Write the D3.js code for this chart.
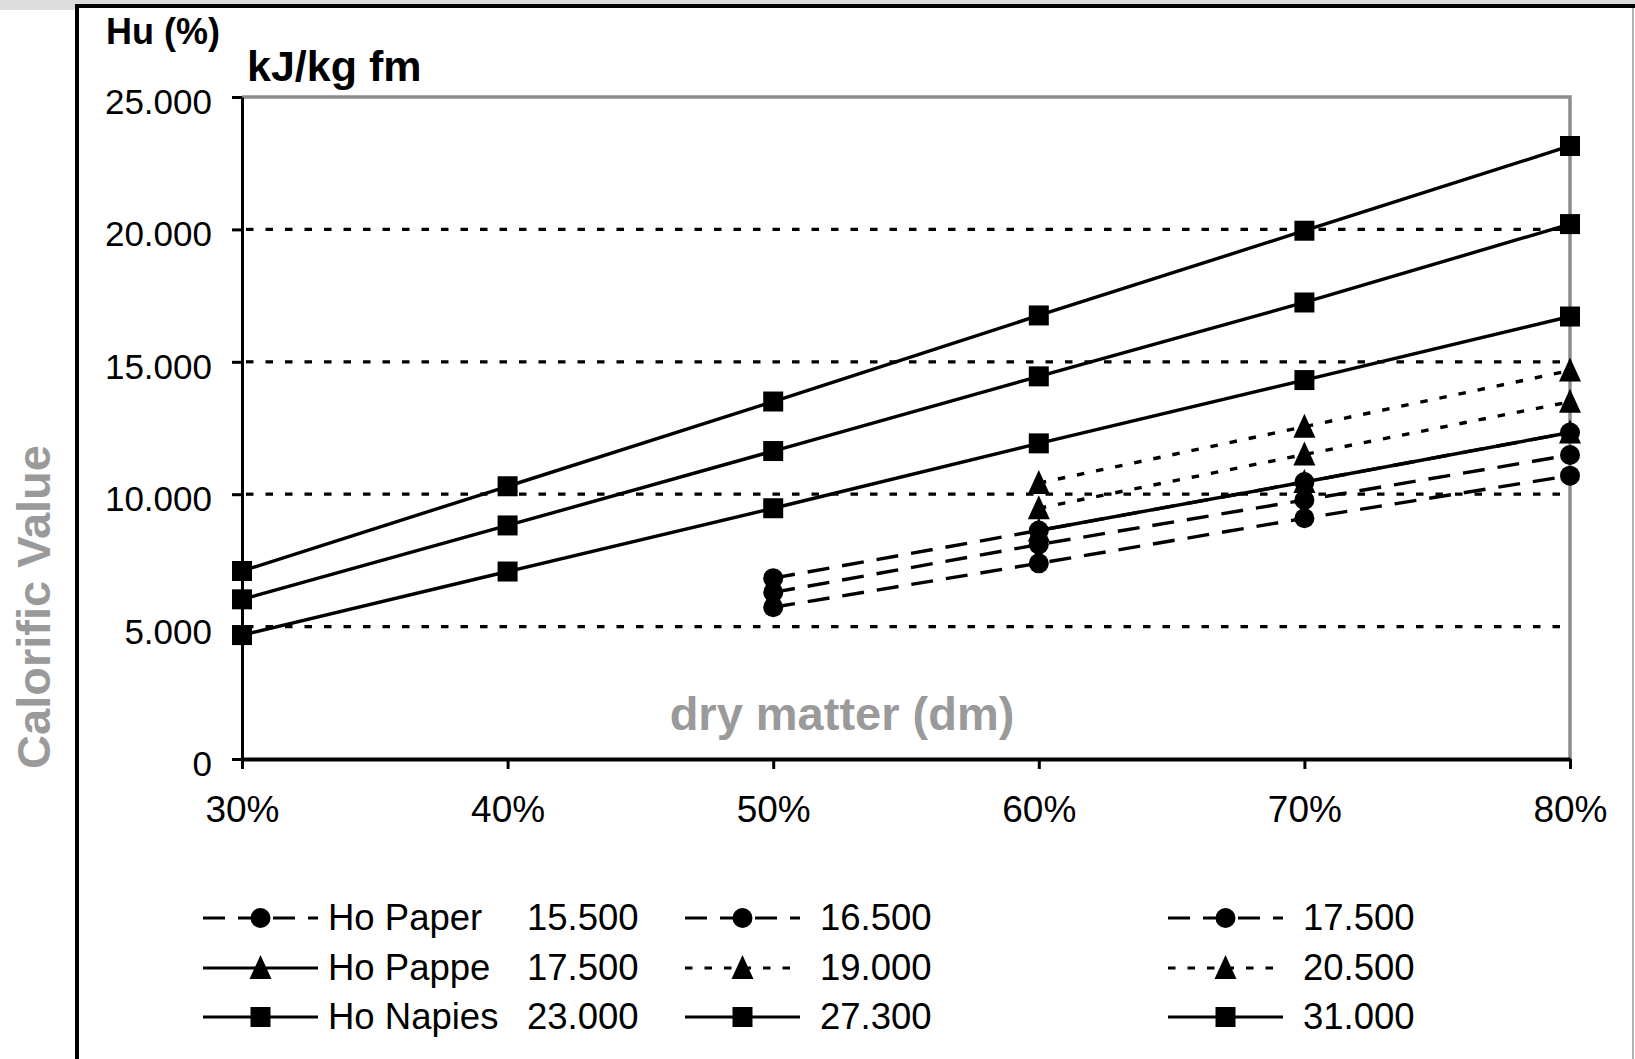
<!DOCTYPE html>
<html>
<head>
<meta charset="utf-8">
<script src="https://cdn.jsdelivr.net/npm/d3@7"></script>
<style>
  body { margin: 0; background: #fff; }
  svg text { font-family: "Liberation Sans", Arial, Helvetica, sans-serif; }
</style>
</head>
<body>
<div id="chart"></div>
<script>
// dry matter share (%), x categories
const dryMatter = [30, 40, 50, 60, 70, 80];

// Hu (kJ/kg fm) per series, null where the series has no point
const paper15500 = [null, null, 5730, 7390, 9090, 10700];
const paper16500 = [null, null, 6290, 8100, 9780, 11480];
const paper17500 = [null, null, 6830, 8630, 10460, 12330];
const pappe17500 = [null, null, null, 8630, 10460, 12330];
const pappe19000 = [null, null, null, 9470, 11500, 13490];
const pappe20500 = [null, null, null, 10420, 12550, 14670];
const napies23000 = [4680, 7080, 9470, 11920, 14310, 16710];
const napies27300 = [6030, 8820, 11630, 14450, 17240, 20200];
const napies31000 = [7100, 10300, 13500, 16750, 19950, 23150];

// legend texts
const groupNames = ["Ho Paper", "Ho Pappe", "Ho Napies"];
const hoLabels = ["15.500", "16.500", "17.500", "17.500", "19.000", "20.500", "23.000", "27.300", "31.000"];

const yTicks = [0, 5000, 10000, 15000, 20000, 25000];
const gridTicks = [5000, 10000, 15000, 20000];

const allSeries = [paper15500, paper16500, paper17500,
                   pappe17500, pappe19000, pappe20500,
                   napies23000, napies27300, napies31000];

const width = 1635, height = 1059;

const svg = d3.select("#chart")
    .append("svg")
    .attr("width", width)
    .attr("height", height);

// outer frame
svg.append("rect").attr("x", 0).attr("y", 0).attr("width", width).attr("height", 10).attr("fill", "#dcdcdc");
svg.append("rect").attr("x", 77).attr("y", 6).attr("width", width - 77).attr("height", height).attr("fill", "#fff");
svg.append("line").attr("x1", 77).attr("x2", 77).attr("y1", 4).attr("y2", height)
    .attr("stroke", "#000").attr("stroke-width", 4);
svg.append("line").attr("x1", 75).attr("x2", width).attr("y1", 6).attr("y2", 6)
    .attr("stroke", "#000").attr("stroke-width", 4);
svg.append("line").attr("x1", width - 2).attr("x2", width - 2).attr("y1", 8).attr("y2", height)
    .attr("stroke", "#999").attr("stroke-width", 1.5);

// scales
const x = d3.scaleLinear().domain([30, 80]).range([242, 1570]);
const y = d3.scaleLinear().domain([0, 25000]).range([759, 97]);

const de = d3.formatLocale({decimal: ",", thousands: ".", grouping: [3], currency: ["", ""]});
const fmt = de.format(",");

// grid lines
svg.append("g")
    .selectAll("line")
    .data(gridTicks)
    .enter()
    .append("line")
    .attr("x1", x(30) + 4).attr("x2", x(80))
    .attr("y1", d => y(d)).attr("y2", d => y(d))
    .attr("stroke", "#000").attr("stroke-width", 3.2)
    .attr("stroke-dasharray", "7.5,12");

// plot border top / right (gray)
svg.append("path")
    .attr("d", "M" + x(30) + "," + y(25000) + "H" + x(80) + "V" + y(0))
    .attr("fill", "none").attr("stroke", "#8c8c8c").attr("stroke-width", 3.5);

// Y axis
const yAxis = svg.append("g")
    .attr("transform", "translate(" + x(30) + ",0)")
    .call(d3.axisLeft(y).tickValues(yTicks).tickFormat(d => fmt(d)).tickSize(10).tickSizeOuter(0).tickPadding(20));
yAxis.select(".domain").attr("stroke-width", 3);
yAxis.selectAll(".tick line").attr("stroke-width", 3);
yAxis.selectAll("text")
    .attr("font-size", 35)
    .attr("fill", "#000")
    .attr("dy", "0.47em")
    .style("font-family", "'Liberation Sans', Arial, sans-serif");

// X axis
const xAxis = svg.append("g")
    .attr("transform", "translate(0," + y(0) + ")")
    .call(d3.axisBottom(x).tickValues(dryMatter).tickFormat(d => d + "%").tickSize(10).tickSizeOuter(0).tickPadding(27));
xAxis.select(".domain").attr("stroke-width", 4);
xAxis.selectAll(".tick line").attr("stroke-width", 3);
xAxis.selectAll("text")
    .attr("font-size", 37)
    .attr("fill", "#000")
    .style("font-family", "'Liberation Sans', Arial, sans-serif");

// titles
svg.append("text")
    .attr("x", 106).attr("y", 44)
    .attr("font-size", 36).attr("font-weight", "bold")
    .text("Hu (%)");
svg.append("text")
    .attr("x", 247).attr("y", 81)
    .attr("font-size", 43).attr("font-weight", "bold")
    .text("kJ/kg fm");
svg.append("text")
    .attr("x", 842).attr("y", 730)
    .attr("text-anchor", "middle")
    .attr("font-size", 47).attr("font-weight", "bold")
    .attr("fill", "#9a9a9a")
    .text("dry matter (dm)");
svg.append("text")
    .attr("transform", "translate(50,607) rotate(-90)")
    .attr("text-anchor", "middle")
    .attr("font-size", 47).attr("font-weight", "bold")
    .attr("fill", "#9a9a9a")
    .text("Calorific Value");

// style per series: group 0 paper, 1 pappe, 2 napies
function dashOf(i) {
  const g = Math.floor(i / 3);
  if (g === 0) return "22,13";
  if (g === 1 && i % 3 > 0) return "7.5,12";
  return null;
}
function markerPath(i) {
  const g = Math.floor(i / 3);
  if (g === 0) return d3.symbol().type(d3.symbolCircle).size(Math.PI * 100)();
  if (g === 1) return "M0,-13L11,11L-11,11Z";
  return "M-10,-10H10V10H-10Z";
}

const line = d3.line()
    .defined(d => d.v !== null)
    .x(d => x(d.dm))
    .y(d => y(d.v));

const seriesData = allSeries.map((vals, i) => ({
  i: i,
  pts: vals.map((v, j) => ({dm: dryMatter[j], v: v}))
}));

// draw napies first, paper last (paper markers on top)
const order = seriesData.slice().reverse();

svg.append("g")
    .selectAll("path")
    .data(order)
    .enter()
    .append("path")
    .attr("d", d => line(d.pts))
    .attr("fill", "none")
    .attr("stroke", "#000")
    .attr("stroke-width", 3.4)
    .attr("stroke-dasharray", d => dashOf(d.i));

const markers = svg.append("g");
order.forEach(s => {
  markers.selectAll(null)
      .data(s.pts.filter(p => p.v !== null))
      .enter()
      .append("path")
      .attr("transform", p => "translate(" + x(p.dm) + "," + y(p.v) + ")")
      .attr("d", markerPath(s.i))
      .attr("fill", "#000");
});

// legend
const colX = [203, 685, 1168];
const rowBase = [930, 980, 1029];
const legendLen = 115;

const legend = svg.append("g");
seriesData.forEach(s => {
  const row = Math.floor(s.i / 3), col = s.i % 3;
  const x0 = colX[col], ly = rowBase[row] - 12;
  legend.append("line")
      .attr("x1", x0).attr("x2", x0 + legendLen)
      .attr("y1", ly).attr("y2", ly)
      .attr("stroke", "#000").attr("stroke-width", 3)
      .attr("stroke-dasharray", dashOf(s.i));
  legend.append("path")
      .attr("transform", "translate(" + (x0 + legendLen / 2) + "," + ly + ")")
      .attr("d", markerPath(s.i))
      .attr("fill", "#000");
  if (col === 0) {
    legend.append("text")
        .attr("x", x0 + legendLen + 10).attr("y", rowBase[row])
        .attr("font-size", 36.5)
        .text(groupNames[row]);
    legend.append("text")
        .attr("x", 527).attr("y", rowBase[row])
        .attr("font-size", 36.5)
        .text(hoLabels[s.i]);
  } else {
    legend.append("text")
        .attr("x", x0 + legendLen + 20).attr("y", rowBase[row])
        .attr("font-size", 36.5)
        .text(hoLabels[s.i]);
  }
});
</script>
</body>
</html>
